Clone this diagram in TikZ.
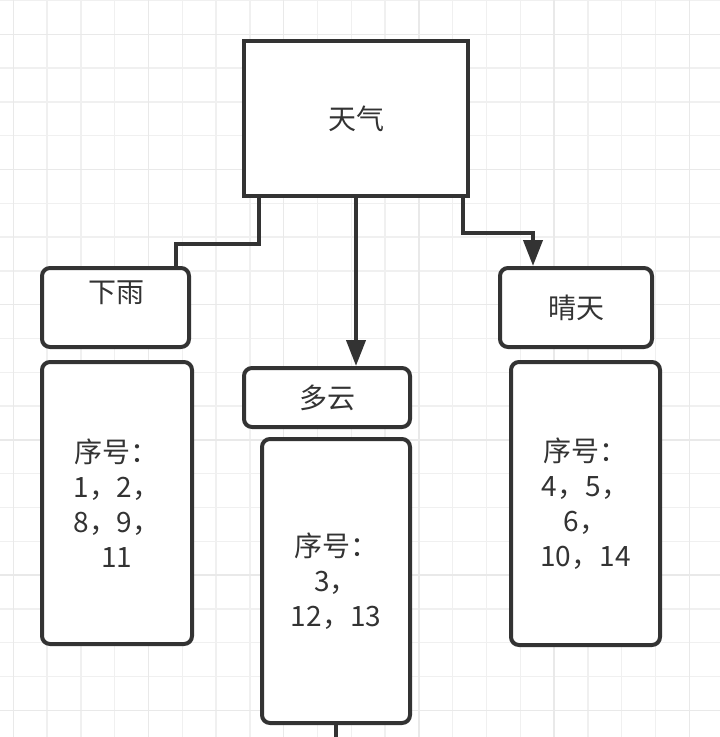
\documentclass[tikz,border=0pt]{standalone}
\usepackage{fontspec}
\setmainfont{Noto Sans CJK SC}
\usetikzlibrary{arrows.meta}
\definecolor{ink}{HTML}{333333}
\definecolor{gridminor}{HTML}{F0F0F0}
\definecolor{gridmajor}{HTML}{E9E9E9}

\begin{document}
\begin{tikzpicture}[x=1pt,y=-1pt,>={Triangle[width=19pt,length=26pt]}]
  \tikzset{
    box/.style={draw=ink,line width=4pt,fill=white,text=ink,inner sep=0pt,
      font=\fontsize{28}{35}\selectfont,align=center},
    tag/.style={box,rounded corners=8pt},
    link/.style={draw=ink,line width=4pt},
    gridline/.style={line width=1.3pt}
  }
  \useasboundingbox (0,0) rectangle (720,737);
  \fill[white] (0,0) rectangle (720,737);

  \foreach \i in {0,...,20}
    \draw[gridline,gridminor] (13.3+33.8*\i,0) -- (13.3+33.8*\i,737);
  \foreach \j in {-1,...,20}
    \draw[gridline,gridminor] (0,34.3+33.8*\j) -- (720,34.3+33.8*\j);
  \foreach \i in {0,4,...,20}
    \draw[gridline,gridmajor] (13.3+33.8*\i,0) -- (13.3+33.8*\i,737);
  \foreach \j in {0,4,...,20}
    \draw[gridline,gridmajor] (0,34.3+33.8*\j) -- (720,34.3+33.8*\j);

        \node[box,minimum width=224pt,minimum height=155pt] (sky) at (356,118.5) {天气};
        \node[tag,minimum width=147pt,minimum height=79pt]  (rain)  at (115.5,307.5) {};
        \node[text=ink,font=\fontsize{28}{35}\selectfont] (rainT) at (116,293) {下雨};
        \node[tag,minimum width=166pt,minimum height=59pt]  (cloud) at (327,397.5) {多云};
        \node[tag,minimum width=152pt,minimum height=79pt]  (sunny) at (576,307.5) {晴天};

        \node[tag,minimum width=150pt,minimum height=282pt] (rainlist)  at (117,503)
          {序号：\\1，2，\\8，9，\\11};
        \node[tag,minimum width=148pt,minimum height=284pt] (cloudlist) at (336,581)
          {序号：\\3，\\12，13};
        \node[tag,minimum width=149pt,minimum height=283pt] (sunnylist) at (585.5,503.5)
          {序号：\\4，5，\\6，\\10，14};

        \coordinate (edge) at (336,737);

        \draw[link] ([xshift=-97pt]sky.south) -- ++(0,46) -| ([xshift=60.5pt]rain.north);
        \draw[link,->] (sky.south) -- (sky.south |- cloud.north);
        \draw[link,->] ([xshift=107pt]sky.south) -- ++(0,35) -| ([xshift=-43pt]sunny.north);
        \draw[link] (cloudlist.south) -- (edge);

\end{tikzpicture}
\end{document}
